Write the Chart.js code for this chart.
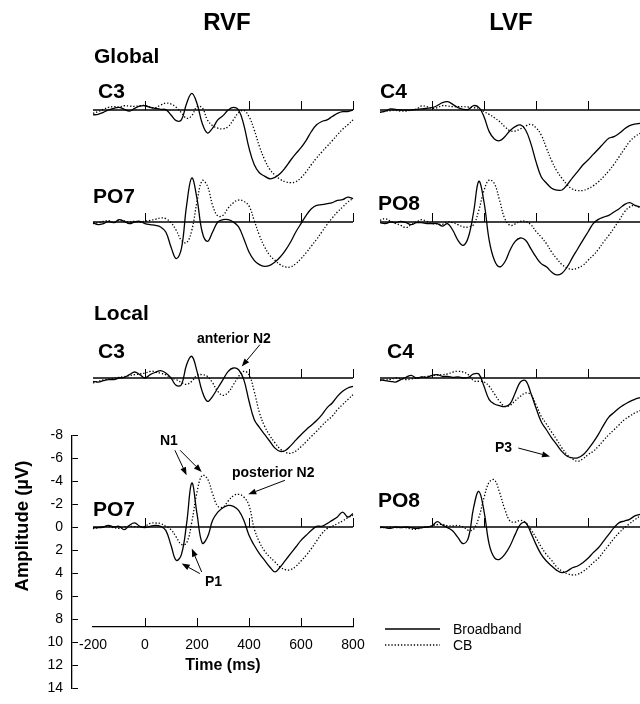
<!DOCTYPE html>
<html>
<head>
<meta charset="utf-8">
<title>ERP waveforms - RVF / LVF</title>
<script src="https://cdn.jsdelivr.net/npm/chart.js@4.4.0/dist/chart.umd.min.js"></script>
<style>
  body { margin: 0; background: #fff; }
  #figure { position: relative; width: 640px; height: 704px; overflow: hidden;
            font-family: "Liberation Sans", Arial, sans-serif; color: #000; }
  #figure canvas { position: absolute; }
  .lbl { position: absolute; white-space: nowrap; line-height: 1; }
</style>
</head>
<body>
<div id="figure"></div>
<script>
// time points (ms), one sample every 20 ms
const times = [-200, -180, -160, -140, -120, -100, -80, -60, -40, -20,
    0, 20, 40, 60, 80, 100, 120, 140, 160, 180,
    200, 220, 240, 260, 280, 300, 320, 340, 360, 380,
    400, 420, 440, 460, 480, 500, 520, 540, 560, 580,
    600, 620, 640, 660, 680, 700, 720, 740, 760, 780, 800];

// amplitudes in microvolts (negative = up)
const globalC3Broadband = [0.43, 0.37, 0.2, 0, -0.14, -0.23, -0.06, 0.1, -0.14, -0.34,
    -0.37, -0.23, -0.14, -0.06, -0.03, 0.43, 0.92, 0.86, -0.57, -1.44,
    -0.57, 1.15, 2.0, 1.58, 0.86, 0.49, 0, -0.23, 0, 1.29,
    3.3, 4.74, 5.46, 5.75, 5.98, 5.86, 5.52, 5.0, 4.37, 3.8,
    3.28, 2.64, 1.87, 1.29, 1.0, 0.86, 0.57, 0.29, 0.14, 0.14, 0];
const globalC3CB = [0.29, 0.14, -0.06, -0.23, -0.29, -0.26, -0.37, -0.34, -0.32, -0.37,
    -0.4, -0.26, -0.2, -0.43, -0.6, -0.52, -0.23, 0.23, 0.72, 0.49,
    -0.29, -0.2, 0.86, 1.35, 1.58, 1.64, 1.44, 0.86, 0.23, 0.03,
    0.57, 1.72, 3.16, 4.31, 5.17, 5.66, 6.03, 6.24, 6.32, 6.24,
    5.89, 5.37, 4.74, 4.17, 3.65, 3.16, 2.67, 2.16, 1.67, 1.29, 0.86];

const globalPO7Broadband = [0.06, 0.23, 0.14, -0.06, 0.06, -0.2, -0.06, 0.14, 0, -0.06,
    0.14, 0.23, 0.29, 0.43, 0.87, 2.17, 3.19, 2.32, -1.45, -3.83,
    -2.03, 0.87, 1.68, 0.87, 0, -0.2, -0.2, 0, 0.43, 1.45,
    2.61, 3.33, 3.71, 3.86, 3.77, 3.48, 3.04, 2.46, 1.74, 0.87,
    0.14, -0.58, -1.16, -1.45, -1.51, -1.59, -1.68, -1.88, -1.94, -2.17, -2.03];
const globalPO7CB = [0.14, 0.06, -0.06, -0.12, 0.06, -0.14, -0.09, 0, -0.06, 0,
    -0.06, -0.14, -0.23, -0.35, -0.29, 0.06, 0.72, 1.59, 1.8, 0.72,
    -1.74, -3.6, -3.13, -1.45, -0.52, -0.58, -1.22, -1.68, -1.91, -1.8,
    -1.39, -0.14, 1.16, 2.17, 2.9, 3.33, 3.71, 3.91, 3.91, 3.62,
    3.19, 2.67, 2.09, 1.51, 0.87, 0.23, -0.35, -0.87, -1.3, -1.74, -2.03];

const globalC4Broadband = [0.2, 0.09, -0.09, -0.06, 0, 0, 0, -0.06, -0.09, -0.14,
    -0.2, -0.38, -0.64, -0.72, -0.49, -0.2, -0.06, -0.06, -0.38, -0.23,
    0.58, 1.88, 2.52, 2.67, 2.32, 1.8, 1.45, 1.3, 1.74, 2.9,
    4.49, 5.8, 6.35, 6.8, 6.96, 6.96, 6.5, 5.9, 5.36, 4.78,
    4.35, 3.86, 3.39, 2.9, 2.46, 2.32, 2.03, 1.65, 1.36, 1.22, 1.16];
const globalC4CB = [0.2, 0.12, 0.06, 0.03, 0.09, 0.09, 0, -0.09, -0.35, -0.29,
    -0.14, -0.2, -0.38, -0.35, -0.29, -0.29, -0.29, -0.26, -0.2, -0.14,
    0.14, 0.38, 0.67, 1.01, 1.45, 1.8, 1.83, 1.65, 1.39, 1.25,
    1.54, 2.17, 3.3, 4.4, 5.3, 5.95, 6.5, 6.87, 7.0, 7.0,
    6.85, 6.6, 6.25, 5.8, 5.3, 4.72, 4.06, 3.39, 2.75, 2.32, 2.03];

const globalPO8Broadband = [0.06, 0.14, 0, 0.06, -0.06, 0.06, 0.23, 0.06, 0.06, 0.14,
    0.14, 0.14, 0.35, 0.14, 0.72, 1.59, 2.03, 1.3, -0.87, -3.54,
    -1.74, 1.59, 3.33, 3.91, 3.48, 2.46, 1.68, 1.39, 1.59, 2.32,
    3.04, 3.62, 3.9, 4.35, 4.6, 4.45, 3.9, 3.1, 2.35, 1.6,
    0.87, 0.14, -0.23, -0.43, -0.58, -0.87, -1.16, -1.51, -1.68, -1.45, -1.3];
const globalPO8CB = [-0.14, -0.29, -0.06, 0.12, 0.29, 0.49, 0.23, 0, -0.2, -0.06,
    0.12, 0.17, 0.2, 0, 0.06, 0.23, 0.43, 0.43, 0.23, -1.01,
    -2.75, -3.65, -3.33, -1.88, -0.29, 0.29, 0.17, -0.06, -0.06, 0.23,
    0.81, 1.3, 1.88, 2.61, 3.19, 3.71, 4.0, 4.12, 4.0, 3.77,
    3.33, 2.9, 2.38, 1.74, 1.16, 0.52, -0.14, -0.87, -1.3, -1.45, -1.22];

const localC3Broadband = [0.29, 0.35, 0.23, 0.14, 0.14, 0, -0.06, -0.29, -0.52, -0.29,
    0, -0.29, -0.49, -0.64, -0.43, 0, 0.64, 0.58, -1.16, -1.88,
    -0.58, 1.16, 2.03, 1.59, 0.87, 0.14, -0.58, -0.87, -0.72, 0.14,
    2.0, 3.6, 4.3, 4.9, 5.5, 6.1, 6.38, 6.3, 5.9, 5.4,
    4.93, 4.5, 4.1, 3.7, 3.2, 2.6, 2.17, 1.6, 1.16, 0.87, 0.72];
const localC3CB = [0.43, 0.29, 0.17, 0.09, 0.03, -0.06, -0.12, -0.2, -0.29, -0.35,
    -0.43, -0.58, -0.55, -0.41, -0.29, 0, 0.14, 0.38, 0.55, 0.29,
    -0.23, -0.29, -0.14, 0.43, 1.16, 1.51, 1.25, 0.58, -0.14, -0.58,
    -0.29, 1.16, 3.0, 4.2, 5.0, 5.65, 6.17, 6.46, 6.55, 6.35,
    5.97, 5.54, 5.07, 4.64, 4.15, 3.7, 3.33, 2.75, 2.32, 1.88, 1.45];

const localPO7Broadband = [0.06, 0.06, 0, -0.14, 0, -0.06, 0.23, -0.14, -0.35, -0.06,
    0.06, -0.06, -0.14, -0.06, 0.29, 1.59, 2.9, 2.4, -0.29, -3.83,
    -1.16, 1.4, 0.9, -0.58, -1.3, -1.68, -1.88, -1.8, -1.45, -0.58,
    0.72, 1.59, 2.32, 2.9, 3.48, 3.91, 3.48, 2.9, 2.32, 1.74,
    1.16, 0.72, 0.29, -0.06, -0.06, -0.29, -0.58, -0.87, -1.3, -0.87, -1.16];
const localPO7CB = [0.14, 0.06, -0.03, -0.06, 0.06, 0.12, 0, -0.06, -0.03, 0,
    -0.06, -0.32, -0.35, -0.29, -0.06, 0.23, 0.87, 1.51, 1.39, -0.43,
    -3.04, -4.49, -4.2, -2.9, -1.8, -1.74, -2.26, -2.72, -2.84, -2.61,
    -1.88, 0.14, 1.3, 2.09, 2.61, 3.04, 3.48, 3.71, 3.71, 3.42,
    2.96, 2.46, 1.88, 1.22, 0.58, 0.14, -0.06, -0.29, -0.52, -0.81, -1.01];

const localC4Broadband = [0.14, 0.23, 0.29, 0.35, 0.14, -0.06, -0.23, 0, -0.09, -0.06,
    -0.23, -0.29, -0.14, -0.14, -0.06, -0.09, 0, -0.06, -0.35, -0.35,
    0.72, 1.88, 2.26, 2.41, 2.49, 2.26, 1.3, 0.35, 0.23, 1.3,
    2.61, 3.8, 4.5, 5.2, 5.8, 6.4, 6.8, 6.95, 6.95, 6.7,
    6.2, 5.6, 4.9, 4.1, 3.4, 3.0, 2.6, 2.3, 2.05, 1.85, 1.7];
const localC4CB = [0.23, 0.17, 0.12, 0, 0.06, 0.14, 0.09, 0, -0.06, -0.14,
    -0.2, -0.26, -0.29, -0.35, -0.52, -0.58, -0.52, -0.29, 0.23, 0.29,
    0.35, 0.72, 1.39, 2.03, 2.46, 2.38, 1.97, 1.59, 1.3, 1.45,
    2.32, 3.33, 4.0, 4.7, 5.37, 6.09, 6.67, 7.04, 7.25, 7.04,
    6.67, 6.38, 5.94, 5.42, 4.93, 4.5, 4.06, 3.62, 3.33, 3.04, 2.84];

const localPO8Broadband = [0, 0.06, 0.12, 0, 0.06, 0, 0.06, 0.12, 0.06, 0,
    -0.09, -0.46, -0.17, 0.06, 0.35, 0.93, 1.45, 0.93, -1.68, -3.1,
    -1.39, 1.51, 2.67, 2.81, 2.38, 1.65, 0.64, -0.23, -0.38, 0.49,
    1.51, 2.38, 2.96, 3.39, 3.77, 3.97, 3.83, 3.54, 3.39, 3.1,
    2.72, 2.23, 1.8, 1.22, 0.64, 0.06, -0.38, -0.52, -0.67, -0.96, -1.1];
const localPO8CB = [0.06, 0.03, 0, 0.06, 0, 0.06, 0.17, 0.2, 0.06, 0,
    -0.12, -0.2, -0.23, -0.12, -0.09, -0.14, 0, 0.29, 0.2, -0.81,
    -2.55, -3.9, -4.1, -2.99, -1.54, -0.52, -0.43, -0.58, -0.38, 0.2,
    0.93, 1.74, 2.38, 2.9, 3.48, 3.83, 4.06, 4.17, 4.12, 3.88,
    3.54, 3.1, 2.72, 2.14, 1.57, 0.99, 0.49, 0.06, -0.29, -0.64, -0.96];

// axis ticks
const ampTicksStep = 2;
const timeTicksStep = 200;

// ---- layout ----
const fig = document.getElementById("figure");
const PX_PER_UV = 11.5;
const UV_TOP = -8, UV_BOTTOM = 10;
const PLOT_W = 260;
const PAD = 4;
const cols = {
    left: { x: 93, ticks: [0, 400, 600, 800] },
    right: { x: 380, ticks: [0, 200, 400, 600, 800] },
};

Chart.defaults.font.family = '"Liberation Sans", Arial, sans-serif';
Chart.defaults.color = "#000";

const panels = [
    { col: "left", base: 110, solid: globalC3Broadband, dotted: globalC3CB },
    { col: "left", base: 222, solid: globalPO7Broadband, dotted: globalPO7CB },
    { col: "right", base: 110, solid: globalC4Broadband, dotted: globalC4CB },
    { col: "right", base: 222, solid: globalPO8Broadband, dotted: globalPO8CB },
    { col: "left", base: 378, solid: localC3Broadband, dotted: localC3CB,
      arrows: [{ from: [442, -2.9], to: [372, -1.0] }] },
    { col: "left", base: 527, solid: localPO7Broadband, dotted: localPO7CB,
      arrows: [
          { from: [115, -6.67], to: [160, -4.5] },
          { from: [135, -6.67], to: [218, -4.78] },
          { from: [538, -4.06], to: [397, -2.84] },
          { from: [211, 4.05], to: [141, 3.18] },
          { from: [218, 3.91], to: [180, 1.88] },
      ] },
    { col: "right", base: 378, solid: localC4Broadband, dotted: localC4CB,
      arrows: [{ from: [332, 6.09], to: [454, 6.82] }] },
    { col: "right", base: 527, solid: localPO8Broadband, dotted: localPO8CB },
];

// zero line with small upward tick marks
function baselinePlugin(tickTimes) {
    return {
        id: "baseline",
        beforeDatasetsDraw(chart) {
            const { ctx, scales: { x, y } } = chart;
            const y0 = y.getPixelForValue(0);
            ctx.save();
            ctx.strokeStyle = "#000";
            ctx.lineWidth = 1.6;
            ctx.beginPath();
            ctx.moveTo(x.getPixelForValue(times[0]), y0);
            ctx.lineTo(x.getPixelForValue(times[times.length - 1]), y0);
            ctx.stroke();
            ctx.lineWidth = 1;
            tickTimes.forEach((t) => {
                const px = Math.round(x.getPixelForValue(t)) + 0.5;
                ctx.beginPath();
                ctx.moveTo(px, y0);
                ctx.lineTo(px, y0 - 9);
                ctx.stroke();
            });
            ctx.restore();
        },
    };
}

// annotation arrows given in (ms, uV) of the panel
function arrowPlugin(arrows) {
    return {
        id: "arrows",
        afterDatasetsDraw(chart) {
            const { ctx, scales: { x, y } } = chart;
            ctx.save();
            ctx.strokeStyle = "#000";
            ctx.fillStyle = "#000";
            ctx.lineWidth = 1;
            arrows.forEach((a) => {
                const x1 = x.getPixelForValue(a.from[0]), y1 = y.getPixelForValue(a.from[1]);
                const x2 = x.getPixelForValue(a.to[0]), y2 = y.getPixelForValue(a.to[1]);
                const ang = Math.atan2(y2 - y1, x2 - x1);
                const len = 8, half = 3;
                const bx = x2 - len * Math.cos(ang), by = y2 - len * Math.sin(ang);
                ctx.beginPath();
                ctx.moveTo(x1, y1);
                ctx.lineTo(bx, by);
                ctx.stroke();
                ctx.beginPath();
                ctx.moveTo(x2, y2);
                ctx.lineTo(bx + half * Math.sin(ang), by - half * Math.cos(ang));
                ctx.lineTo(bx - half * Math.sin(ang), by + half * Math.cos(ang));
                ctx.closePath();
                ctx.fill();
            });
            ctx.restore();
        },
    };
}

function addCanvas(left, top, w, h) {
    const c = document.createElement("canvas");
    c.width = w;
    c.height = h;
    c.style.left = left + "px";
    c.style.top = top + "px";
    fig.appendChild(c);
    return c;
}

function series(values, dashed) {
    return {
        data: times.map((t, i) => ({ x: t, y: values[i] })),
        borderColor: "#000",
        borderWidth: 1.3,
        borderDash: dashed ? [1.3, 1.9] : [],
        pointRadius: 0,
        tension: 0.4,
        clip: false,
    };
}

const quiet = {
    responsive: false,
    animation: false,
    devicePixelRatio: 1,
    events: [],
};

panels.forEach((p) => {
    const col = cols[p.col];
    const canvas = addCanvas(col.x - PAD, p.base + UV_TOP * PX_PER_UV,
        PLOT_W + 2 * PAD, (UV_BOTTOM - UV_TOP) * PX_PER_UV);
    new Chart(canvas, {
        type: "line",
        data: { datasets: [series(p.solid, false), series(p.dotted, true)] },
        options: {
            ...quiet,
            layout: { padding: { left: PAD, right: PAD, top: 0, bottom: 0 } },
            plugins: { legend: { display: false }, tooltip: { enabled: false } },
            scales: {
                x: { type: "linear", min: times[0], max: times[times.length - 1], display: false },
                y: { min: UV_TOP, max: UV_BOTTOM, reverse: true, display: false },
            },
        },
        plugins: [baselinePlugin(col.ticks), arrowPlugin(p.arrows || [])],
    });
});

// amplitude axis (belongs to local PO7 panel): -8 at y=435, 14 at y=688
const AMP_MIN = -8, AMP_MAX = 14;
const AXIS_TOP = 527 + AMP_MIN * PX_PER_UV;
const AXIS_H = (AMP_MAX - AMP_MIN) * PX_PER_UV;

function amplitudeAxis(canvas) {
    return new Chart(canvas, {
        type: "line",
        data: { datasets: [] },
        options: {
            ...quiet,
            layout: { padding: { top: 0, bottom: 0, left: 0, right: 2 } },
            plugins: { legend: { display: false }, tooltip: { enabled: false } },
            scales: {
                x: { type: "linear", display: false, min: 0, max: 1 },
                y: {
                    min: AMP_MIN, max: AMP_MAX, reverse: true,
                    afterFit(scale) { scale.width = 72; },
                    ticks: { stepSize: ampTicksStep, color: "#000", font: { size: 14 }, padding: 9 },
                    grid: { drawTicks: false, color: "#000", lineWidth: 1 },
                    border: { display: true, color: "#000", width: 1.3 },
                },
            },
        },
    });
}

// first pass measures the label padding, second pass places the axis exactly
let probe = addCanvas(0, 0, 80, 300);
let yAxis = amplitudeAxis(probe);
const padTop = yAxis.chartArea.top;
const padBottom = 300 - yAxis.chartArea.bottom;
yAxis.destroy();
probe.remove();
const yAxisCanvas = addCanvas(0, Math.round(AXIS_TOP - padTop), 80, Math.round(AXIS_H + padTop + padBottom));
amplitudeAxis(yAxisCanvas);

// time axis
const xAxisCanvas = addCanvas(60, 610, 320, 80);
new Chart(xAxisCanvas, {
    type: "line",
    data: { datasets: [] },
    options: {
        ...quiet,
        layout: { padding: { top: 8, bottom: 0, left: 33, right: 27 } },
        plugins: { legend: { display: false }, tooltip: { enabled: false } },
        scales: {
            y: { display: false, min: 0, max: 1 },
            x: {
                type: "linear", min: -200, max: 800,
                afterFit(scale) { scale.height = 63; },
                ticks: { stepSize: timeTicksStep, color: "#000", font: { size: 14 }, padding: 10, maxRotation: 0 },
                grid: {
                    drawTicks: false, lineWidth: 1,
                    color: (ctx) => (ctx.tick && ctx.tick.value === -200 ? "rgba(0,0,0,0)" : "#000"),
                },
                border: { display: true, color: "#000", width: 1.3 },
                title: {
                    display: true, text: "Time (ms)", color: "#000",
                    font: { size: 16, weight: "bold" }, padding: { top: 0, bottom: 15 },
                },
            },
        },
    },
});

// ---- text ----
function addText(text, x, yMid, size, bold, center) {
    const d = document.createElement("div");
    d.className = "lbl";
    d.textContent = text;
    d.style.fontSize = size + "px";
    d.style.fontWeight = bold ? "bold" : "normal";
    d.style.left = x + "px";
    d.style.top = (yMid - 0.49 * size) + "px";
    if (center) d.style.transform = "translateX(-50%)";
    fig.appendChild(d);
    return d;
}

addText("RVF", 227, 22, 24, true, true);
addText("LVF", 511, 22, 24, true, true);
addText("Global", 94, 55, 21, true);
addText("Local", 94, 312, 21, true);
addText("C3", 98, 90, 21, true);
addText("PO7", 93, 195, 21, true);
addText("C4", 380, 90, 21, true);
addText("PO8", 378, 202, 21, true);
addText("C3", 98, 350, 21, true);
addText("PO7", 93, 508, 21, true);
addText("C4", 387, 350, 21, true);
addText("PO8", 378, 499, 21, true);

addText("anterior N2", 197, 338, 14, true);
addText("N1", 160, 440, 14, true);
addText("posterior N2", 232, 472, 14, true);
addText("P1", 205, 581, 14, true);
addText("P3", 495, 447, 14, true);

const ampTitle = addText("Amplitude (\u00b5V)", 22, 526, 18.5, true, false);
ampTitle.style.top = "526px";
ampTitle.style.transform = "translate(-50%, -50%) rotate(-90deg)";

// legend
const legendSvg = document.createElementNS("http://www.w3.org/2000/svg", "svg");
legendSvg.setAttribute("width", "640");
legendSvg.setAttribute("height", "704");
legendSvg.style.position = "absolute";
legendSvg.style.left = "0";
legendSvg.style.top = "0";
legendSvg.innerHTML =
    '<line x1="385" y1="629" x2="440" y2="629" stroke="#000" stroke-width="1.3"/>' +
    '<line x1="385" y1="645" x2="440" y2="645" stroke="#000" stroke-width="1.3" stroke-dasharray="1.3 1.9"/>';
fig.appendChild(legendSvg);
addText("Broadband", 453, 629, 14, false);
addText("CB", 453, 645, 14, false);
</script>
</body>
</html>
